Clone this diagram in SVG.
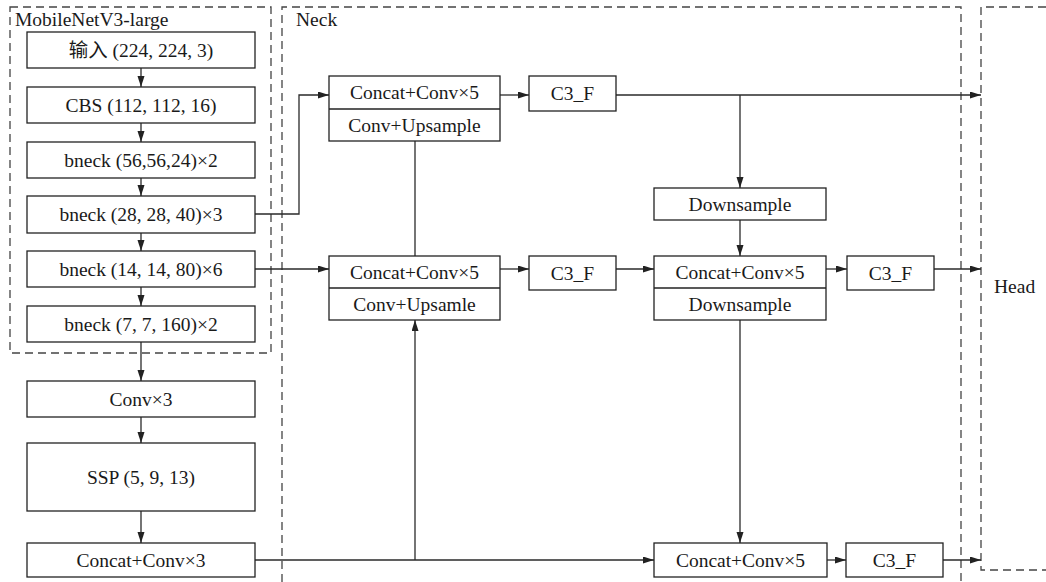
<svg xmlns="http://www.w3.org/2000/svg" width="1046" height="582" viewBox="0 0 1046 582">
<defs>
<style>
.box{fill:#fff;stroke:#222;stroke-width:1.3}
.div{stroke:#222;stroke-width:1.3;fill:none}
.ln{fill:none;stroke:#2a2a2a;stroke-width:1.3}
.arr{marker-end:url(#ah)}
.dash{fill:none;stroke:#444;stroke-width:1.3;stroke-dasharray:8,5}
text{font-family:'Liberation Serif','Times New Roman',Times,serif;font-size:19.5px;fill:#1a1a1a}
text.cjk{font-family:'Liberation Serif','Noto Sans CJK SC',serif}
.c{text-anchor:middle}
</style>
<marker id="ah" markerUnits="userSpaceOnUse" markerWidth="12" markerHeight="8" refX="11" refY="3.5" orient="auto">
<path d="M0,0 L11,3.5 L0,7 z" fill="#222"/>
</marker>
</defs>
<rect width="1046" height="582" fill="#fff"/>

<g id="groups">
<rect class="dash" x="10" y="7" width="261" height="346"/>
<path class="dash" d="M282,582 V7 H961 V582"/>
<path class="dash" d="M1046,7 H981 V570 H1046"/>
<text x="15" y="26">MobileNetV3-large</text>
<text x="296" y="26">Neck</text>
<text x="994" y="293">Head</text>
</g>

<g id="connectors">
<path class="ln arr" d="M141,68 V87"/>
<path class="ln arr" d="M141,123 V142"/>
<path class="ln arr" d="M141,178 V196"/>
<path class="ln arr" d="M141,233 V251"/>
<path class="ln arr" d="M141,287 V306"/>
<path class="ln arr" d="M141,342 V381"/>
<path class="ln arr" d="M141,417 V443"/>
<path class="ln arr" d="M141,511 V543"/>
<path class="ln arr" d="M255,214 H299 V95 H329"/>
<path class="ln arr" d="M255,269 H329"/>
<path class="ln arr" d="M500,95 H529"/>
<path class="ln arr" d="M616,95 H981"/>
<path class="ln arr" d="M740,95 V188"/>
<path class="ln arr" d="M740,220 V256"/>
<path class="ln" d="M415,141 V256"/>
<path class="ln arr" d="M500,269 H529"/>
<path class="ln arr" d="M616,269 H654"/>
<path class="ln arr" d="M826,269 H847"/>
<path class="ln arr" d="M934,269 H981"/>
<path class="ln arr" d="M740,320 V543"/>
<path class="ln arr" d="M255,560 H654"/>
<path class="ln arr" d="M415,560 V320"/>
<path class="ln arr" d="M827,560 H846"/>
<path class="ln arr" d="M943,560 H981"/>
</g>

<g id="n-input"><rect class="box" x="27" y="32" width="228" height="36"/><text class="c cjk" x="141" y="56.5">输入 (224, 224, 3)</text></g>
<g id="n-cbs"><rect class="box" x="27" y="87" width="228" height="36"/><text class="c" x="141" y="111.5">CBS (112, 112, 16)</text></g>
<g id="n-bneck1"><rect class="box" x="27" y="142" width="228" height="36"/><text class="c" x="141" y="166.5">bneck (56,56,24)×2</text></g>
<g id="n-bneck2"><rect class="box" x="27" y="196" width="228" height="37"/><text class="c" x="141" y="221">bneck (28, 28, 40)×3</text></g>
<g id="n-bneck3"><rect class="box" x="27" y="251" width="228" height="36"/><text class="c" x="141" y="275.5">bneck (14, 14, 80)×6</text></g>
<g id="n-bneck4"><rect class="box" x="27" y="306" width="228" height="36"/><text class="c" x="141" y="330.5">bneck (7, 7, 160)×2</text></g>
<g id="n-conv3"><rect class="box" x="27" y="381" width="228" height="36"/><text class="c" x="141" y="405.5">Conv×3</text></g>
<g id="n-ssp"><rect class="box" x="27" y="443" width="228" height="68"/><text class="c" x="141" y="483.5">SSP (5, 9, 13)</text></g>
<g id="n-cc3"><rect class="box" x="27" y="543" width="228" height="34"/><text class="c" x="141" y="566.5">Concat+Conv×3</text></g>

<g id="n-topconcat"><rect class="box" x="329" y="76" width="171" height="65"/><path class="div" d="M329,109 H500"/><text class="c" x="414.5" y="99">Concat+Conv×5</text><text class="c" x="414.5" y="131.5">Conv+Upsample</text></g>
<g id="n-topc3f"><rect class="box" x="529" y="76" width="87" height="35"/><text class="c" x="572.5" y="100">C3_F</text></g>
<g id="n-midconcat"><rect class="box" x="329" y="256" width="171" height="64"/><path class="div" d="M329,288 H500"/><text class="c" x="414.5" y="278.5">Concat+Conv×5</text><text class="c" x="414.5" y="310.5">Conv+Upsamle</text></g>
<g id="n-midc3f"><rect class="box" x="529" y="256" width="87" height="34"/><text class="c" x="572.5" y="279.5">C3_F</text></g>
<g id="n-down"><rect class="box" x="654" y="188" width="172" height="32"/><text class="c" x="740" y="210.5">Downsample</text></g>
<g id="n-rconcat"><rect class="box" x="654" y="256" width="172" height="64"/><path class="div" d="M654,288 H826"/><text class="c" x="740" y="278.5">Concat+Conv×5</text><text class="c" x="740" y="310.5">Downsample</text></g>
<g id="n-rc3f"><rect class="box" x="847" y="256" width="87" height="34"/><text class="c" x="890.5" y="279.5">C3_F</text></g>
<g id="n-bconcat"><rect class="box" x="654" y="543" width="173" height="34"/><text class="c" x="740.5" y="566.5">Concat+Conv×5</text></g>
<g id="n-bc3f"><rect class="box" x="846" y="543" width="97" height="34"/><text class="c" x="894.5" y="566.5">C3_F</text></g>
</svg>
